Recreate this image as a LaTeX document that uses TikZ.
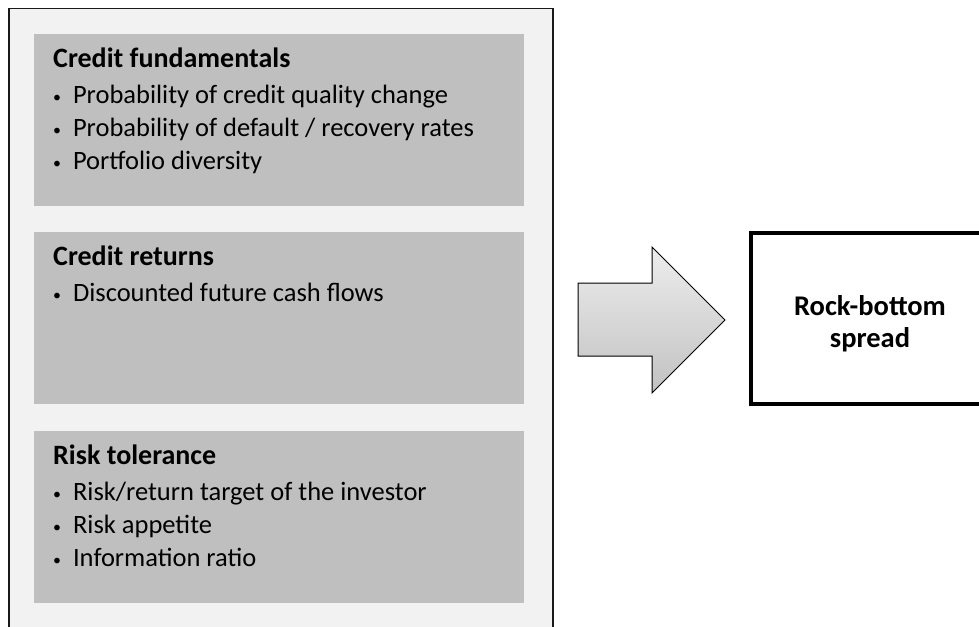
\documentclass[tikz,border=0pt]{standalone}
\usepackage{fontspec}
\setmainfont{Carlito}
\usetikzlibrary{positioning,calc}
\definecolor{panelgray}{HTML}{F2F2F2}
\definecolor{factorgray}{HTML}{BFBFBF}
\newcommand{\itembullet}{\raisebox{1.5pt}{\scalebox{0.6}{\textbullet}}\hspace{0.45em}}
\newcommand{\factorhead}[1]{{\fontsize{28}{33}\selectfont\bfseries #1}}
\tikzstyle{panel} = [draw=black!90, line width=1.5pt, fill=panelgray]
\tikzstyle{factor} = [fill=factorgray, minimum width=490pt, minimum height=172pt, inner sep=0pt]
\tikzstyle{factortext} = [anchor=north west, inner sep=0pt, align=left, font=\fontsize{26.5}{33}\selectfont]
\tikzstyle{result} = [draw=black, line width=4.5pt, minimum width=238pt, minimum height=171pt, align=center, font=\fontsize{28.5}{32}\selectfont\bfseries]

\begin{document}
\begin{tikzpicture}[x=1pt,y=-1pt]
\useasboundingbox (0,0) rectangle (979,626);
\fill[white] (0,0) rectangle (979,626);

% left panel with the three groups of inputs
\node[panel, anchor=north west, minimum width=544pt, minimum height=640pt] (inputs) at (8,8) {};
\node[factor, anchor=north west] (fund) at (34,34) {};
\node[factor, anchor=north west] (returns) at (34,232) {};
\node[factor, anchor=north west] (tolerance) at (34,431) {};

\node[factortext, below right=14pt and 19pt of fund.north west] (fundtext) {%
  \factorhead{Credit fundamentals}\\[3pt]
  \itembullet Probability of credit quality change\\
  \itembullet Probability of default / recovery rates\\
  \itembullet Portfolio diversity};
\node[factortext, below right=14pt and 19pt of returns.north west] (returnstext) {%
  \factorhead{Credit returns}\\[3pt]
  \itembullet Discounted future cash flows};
\node[factortext, below right=14pt and 19pt of tolerance.north west] (tolerancetext) {%
  \factorhead{Risk tolerance}\\[3pt]
  \itembullet Risk/return target of the investor\\
  \itembullet Risk appetite\\
  \itembullet Information ratio};

% block arrow
\draw[black, line width=1pt, line join=miter, top color=black!7, bottom color=black!24]
  (578,283) -- (652,283) -- (652,247) -- (725,320) -- (652,393) -- (652,356) -- (578,356) -- cycle;

\node[result] (spread) at (870,318.5) {\rule{0pt}{31pt}Rock-bottom\\spread};
\end{tikzpicture}
\end{document}
